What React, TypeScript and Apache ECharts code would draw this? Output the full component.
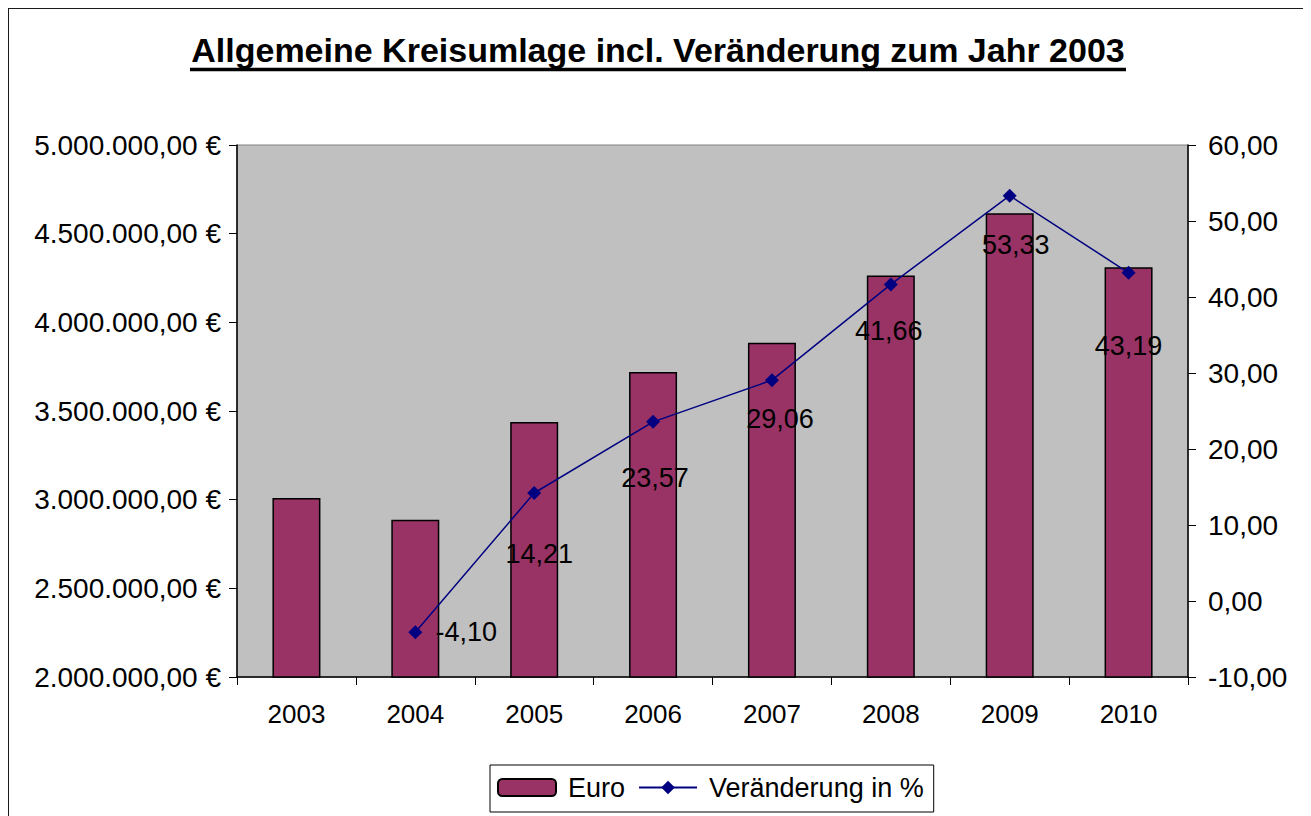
import React, { useEffect, useRef } from "react";
import * as echarts from "echarts";

const years = ["2003", "2004", "2005", "2006", "2007", "2008", "2009", "2010"];
const euroValues = [3010000, 2886600, 3437700, 3719500, 3884700, 4264000, 4615300, 4310100];
const changePercent: (number | null)[] = [null, -4.1, 14.21, 23.57, 29.06, 41.66, 53.33, 43.19];
const titleText = "Allgemeine Kreisumlage incl. Veränderung zum Jahr 2003";
const seriesNames = ["Euro", "Veränderung in %"];

// label offsets (style only)
const labelOffsets: [number, number][] = [
  [0, 0],
  [51, 0],
  [5, 61],
  [2, 56],
  [8, 39],
  [-2, 47],
  [6, 49],
  [0, 73],
];

const FONT = "'Liberation Sans', Arial, sans-serif";

function fmtDE(v: number, decimals: number): string {
  const neg = v < 0;
  const s = Math.abs(v).toFixed(decimals);
  const [intPart, dec] = s.split(".");
  const withSep = intPart.replace(/\B(?=(\d{3})+(?!\d))/g, ".");
  return (neg ? "-" : "") + withSep + (dec !== undefined ? "," + dec : "");
}

export default function App() {
  const ref = useRef<HTMLDivElement>(null);
  useEffect(() => {
    if (!ref.current) return;
    const chart = echarts.init(ref.current, undefined, { renderer: "svg" });
    const lineData = changePercent.map((v, i) =>
      v === null
        ? null
        : {
            value: v,
            label: {
              show: true,
              position: "inside",
              offset: labelOffsets[i],
              formatter: () => fmtDE(v, 2),
            },
          }
    );
    chart.setOption({
      animation: false,
      backgroundColor: "#ffffff",
      textStyle: { fontFamily: FONT },
      graphic: [
        {
          type: "rect",
          z: 100,
          left: 1,
          top: 1,
          shape: { x: 0, y: 0, width: 1298, height: 840 },
          style: { fill: "transparent", stroke: "#1a1a1a", lineWidth: 2 },
          silent: true,
        },
        {
          type: "text",
          x: 652,
          y: 44,
          style: {
            text: titleText,
            font: `bold 34px ${FONT}`,
            fill: "#000",
            align: "center",
            verticalAlign: "middle",
          },
        },
        {
          type: "line",
          shape: { x1: 184, y1: 63.5, x2: 1120, y2: 63.5 },
          style: { stroke: "#000", lineWidth: 3.5 },
        },
      ],
      grid: {
        left: 231,
        right: 118,
        top: 139,
        bottom: 179,
        show: true,
        backgroundColor: "#C0C0C0",
        borderColor: "#808080",
        borderWidth: 1,
      },
      legend: {
        left: 484,
        top: 759,
        orient: "horizontal",
        data: seriesNames,
        itemWidth: 58,
        itemHeight: 17,
        itemGap: 13,
        borderColor: "#000",
        borderWidth: 1,
        padding: [9, 10, 11, 7],
        textStyle: { fontSize: 27, color: "#000", fontFamily: FONT, padding: [0, 0, 0, 7] },
      },
      xAxis: {
        type: "category",
        data: years,
        boundaryGap: true,
        axisLine: { show: true, onZero: false, lineStyle: { color: "#000", width: 1.5 } },
        axisTick: { show: true, length: 8, inside: false, lineStyle: { color: "#000" } },
        axisLabel: { fontSize: 26, color: "#000", margin: 24, fontFamily: FONT },
        splitLine: { show: false },
      },
      yAxis: [
        {
          type: "value",
          min: 2000000,
          max: 5000000,
          interval: 500000,
          position: "left",
          axisLine: { show: true, lineStyle: { color: "#000", width: 1.5 } },
          axisTick: { show: true, length: 8, lineStyle: { color: "#000" } },
          axisLabel: {
            fontSize: 28,
            color: "#000",
            margin: 16,
            fontFamily: FONT,
            formatter: (v: number) => fmtDE(v, 2) + " €",
          },
          splitLine: { show: false },
        },
        {
          type: "value",
          min: -10,
          max: 60,
          interval: 10,
          position: "right",
          axisLine: { show: true, lineStyle: { color: "#000", width: 1.5 } },
          axisTick: { show: true, length: 8, lineStyle: { color: "#000" } },
          axisLabel: {
            fontSize: 28,
            color: "#000",
            margin: 20,
            fontFamily: FONT,
            formatter: (v: number) => fmtDE(v, 2),
          },
          splitLine: { show: false },
        },
      ],
      series: [
        {
          name: seriesNames[0],
          type: "bar",
          data: euroValues,
          barWidth: 48,
          itemStyle: { color: "#993366", borderColor: "#000", borderWidth: 1.5 },
        },
        {
          name: seriesNames[1],
          type: "line",
          yAxisIndex: 1,
          data: lineData,
          symbol: "diamond",
          symbolSize: 14,
          lineStyle: { color: "#000080", width: 1.5 },
          itemStyle: { color: "#000080" },
          label: { fontSize: 27, color: "#000", fontFamily: FONT },
        },
      ],
    });
    return () => chart.dispose();
  }, []);
  return (
    <div
      ref={ref}
      style={{ marginLeft: -2, marginTop: -2, width: 1300, height: 850 }}
    />
  );
}
